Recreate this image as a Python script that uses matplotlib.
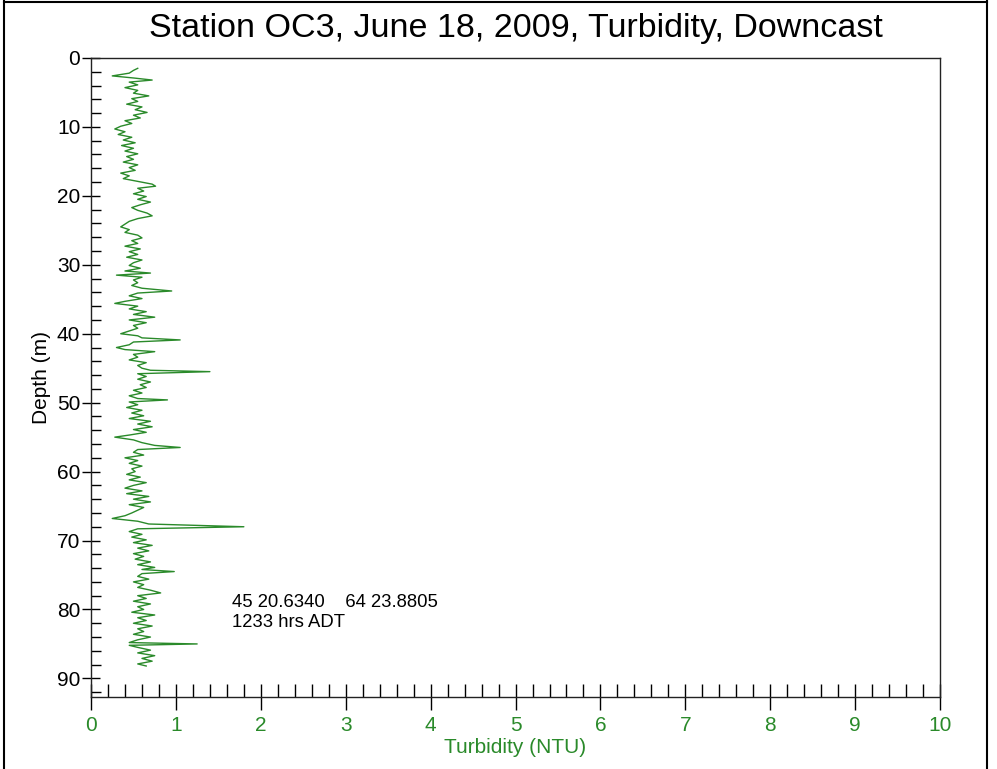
import matplotlib
matplotlib.use("Agg")
import matplotlib.pyplot as plt
from matplotlib.ticker import MultipleLocator
from matplotlib.lines import Line2D

# Perfil de turbidez (profundidade em m, turbidez em NTU)
profundidade = [
    1.5, 1.8, 2.2, 2.6, 2.9, 3.2, 3.5, 3.9, 4.3, 4.7, 5.1, 5.5, 5.9, 6.3, 6.7,
    7.1, 7.5, 7.9, 8.3, 8.7, 9.1, 9.5, 9.9, 10.3, 10.7, 11.1, 11.5, 11.9, 12.3,
    12.7, 13.1, 13.5, 13.9, 14.3, 14.7, 15.1, 15.5, 15.9, 16.3, 16.7, 17.1,
    17.5, 17.9, 18.3, 18.6, 18.9, 19.3, 19.7, 20.1, 20.5, 20.9, 21.3, 21.7,
    22.1, 22.5, 22.9, 23.3, 23.7, 24.1, 24.5, 24.9, 25.3, 25.7, 26.1, 26.5,
    26.9, 27.3, 27.7, 28.1, 28.5, 28.9, 29.3, 29.7, 30.1, 30.5, 30.9, 31.2,
    31.5, 31.8, 32.2, 32.6, 33.0, 33.4, 33.8, 34.1, 34.5, 34.9, 35.3, 35.6,
    36.0, 36.4, 36.8, 37.2, 37.6, 38.0, 38.4, 38.8, 39.2, 39.6, 40.0, 40.3,
    40.6, 40.9, 41.2, 41.6, 42.0, 42.3, 42.6, 43.0, 43.4, 43.8, 44.2, 44.6,
    45.0, 45.3, 45.5, 45.8, 46.2, 46.6, 47.0, 47.4, 47.8, 48.2, 48.6, 49.0,
    49.4, 49.6, 49.9, 50.3, 50.7, 51.1, 51.5, 51.9, 52.3, 52.7, 53.1, 53.5,
    53.9, 54.3, 54.7, 55.0, 55.4, 55.8, 56.2, 56.5, 56.8, 57.2, 57.6, 58.0,
    58.4, 58.8, 59.2, 59.6, 60.0, 60.4, 60.8, 61.2, 61.6, 62.0, 62.4, 62.8,
    63.2, 63.6, 64.0, 64.4, 64.8, 65.2, 65.6, 66.0, 66.4, 66.8, 67.2, 67.6,
    68.0, 68.3, 68.7, 69.1, 69.5, 69.9, 70.3, 70.7, 71.1, 71.5, 71.9, 72.3,
    72.7, 73.1, 73.5, 73.9, 74.2, 74.5, 74.8, 75.2, 75.6, 76.0, 76.4, 76.8,
    77.2, 77.6, 78.0, 78.4, 78.8, 79.2, 79.6, 80.0, 80.4, 80.8, 81.2, 81.6,
    82.0, 82.4, 82.8, 83.2, 83.6, 84.0, 84.4, 84.8, 85.0, 85.2, 85.5, 85.9,
    86.3, 86.7, 87.1, 87.5, 87.9, 88.2,
]
turbidez = [
    0.55, 0.50, 0.45, 0.25, 0.50, 0.72, 0.45, 0.55, 0.40, 0.55, 0.50, 0.68,
    0.48, 0.55, 0.42, 0.60, 0.52, 0.66, 0.50, 0.58, 0.40, 0.48, 0.35, 0.28,
    0.40, 0.32, 0.48, 0.38, 0.52, 0.36, 0.50, 0.40, 0.55, 0.42, 0.50, 0.38,
    0.55, 0.45, 0.52, 0.35, 0.45, 0.38, 0.55, 0.72, 0.76, 0.55, 0.62, 0.50,
    0.65, 0.55, 0.70, 0.58, 0.48, 0.55, 0.66, 0.72, 0.55, 0.45, 0.40, 0.35,
    0.45, 0.40, 0.55, 0.60, 0.48, 0.55, 0.40, 0.58, 0.45, 0.55, 0.42, 0.60,
    0.50, 0.45, 0.58, 0.40, 0.70, 0.30, 0.60, 0.50, 0.55, 0.48, 0.60, 0.95,
    0.55, 0.45, 0.60, 0.40, 0.28, 0.55, 0.45, 0.65, 0.50, 0.75, 0.45, 0.65,
    0.50, 0.55, 0.45, 0.35, 0.55, 0.60, 1.05, 0.50, 0.45, 0.30, 0.40, 0.75,
    0.50, 0.55, 0.45, 0.65, 0.55, 0.60, 0.70, 1.40, 0.55, 0.65, 0.55, 0.70,
    0.58, 0.65, 0.50, 0.60, 0.45, 0.55, 0.90, 0.45, 0.55, 0.42, 0.60, 0.48,
    0.62, 0.45, 0.70, 0.55, 0.72, 0.50, 0.65, 0.45, 0.28, 0.50, 0.60, 0.75,
    1.05, 0.55, 0.50, 0.62, 0.40, 0.55, 0.45, 0.60, 0.48, 0.52, 0.42, 0.58,
    0.45, 0.65, 0.50, 0.40, 0.60, 0.42, 0.68, 0.50, 0.70, 0.45, 0.62, 0.55,
    0.48, 0.40, 0.25, 0.55, 0.68, 1.80, 0.55, 0.45, 0.60, 0.48, 0.65, 0.50,
    0.72, 0.55, 0.68, 0.50, 0.62, 0.52, 0.70, 0.55, 0.75, 0.60, 0.98, 0.60,
    0.55, 0.68, 0.50, 0.62, 0.55, 0.70, 0.82, 0.55, 0.65, 0.50, 0.70, 0.55,
    0.62, 0.48, 0.75, 0.55, 0.65, 0.50, 0.72, 0.55, 0.62, 0.50, 0.70, 0.55,
    0.45, 1.25, 0.45, 0.55, 0.70, 0.55, 0.75, 0.60, 0.72, 0.55, 0.65,
]

verde = "#2a8a2a"
plt.rcParams['font.family'] = ['Liberation Sans', 'DejaVu Sans']

fig = plt.figure(figsize=(9.97, 7.69), dpi=100)
ax = fig.add_axes([0.0913, 0.0936, 0.8516, 0.8310])

ax.plot(turbidez, profundidade, color=verde, linewidth=1.0)

ax.set_xlim(0, 10)
ax.set_ylim(92.7, 0)

# Eixos e marcas
ax.xaxis.set_major_locator(MultipleLocator(1))
ax.xaxis.set_minor_locator(MultipleLocator(0.2))
ax.yaxis.set_major_locator(MultipleLocator(10))
ax.yaxis.set_minor_locator(MultipleLocator(2))
ax.tick_params(axis='x', which='major', direction='inout', length=19, width=1,
               labelsize=15, labelcolor=verde, pad=4.5)
ax.tick_params(axis='x', which='minor', direction='in', length=9.4, width=1)
ax.tick_params(axis='y', which='major', direction='inout', length=13.5, width=1,
               labelsize=15, pad=1)
ax.tick_params(axis='y', which='minor', direction='in', length=7.2, width=1)
for s in ax.spines.values():
    s.set_linewidth(1)
    s.set_color("#222222")

ax.set_xlabel("Turbidity (NTU)", color=verde, fontsize=15, labelpad=1.5)
ax.set_ylabel("Depth (m)", fontsize=15, labelpad=4)
ax.set_title("Station OC3, June 18, 2009, Turbidity, Downcast", fontsize=24.5, pad=15)

ax.text(1.66, 79.0, "45 20.6340    64 23.8805", fontsize=13.3, va='center')
ax.text(1.66, 81.9, "1233 hrs ADT", fontsize=13.3, va='center')

# Moldura externa
for xs, ys in [([0.004, 0.004], [0.0, 0.999]), ([0.004, 0.99], [0.998, 0.998]),
               ([0.99, 0.99], [0.0, 0.999])]:
    fig.add_artist(Line2D(xs, ys, color='black', linewidth=1.5,
                          transform=fig.transFigure))

fig.savefig("out.png", dpi=100)
